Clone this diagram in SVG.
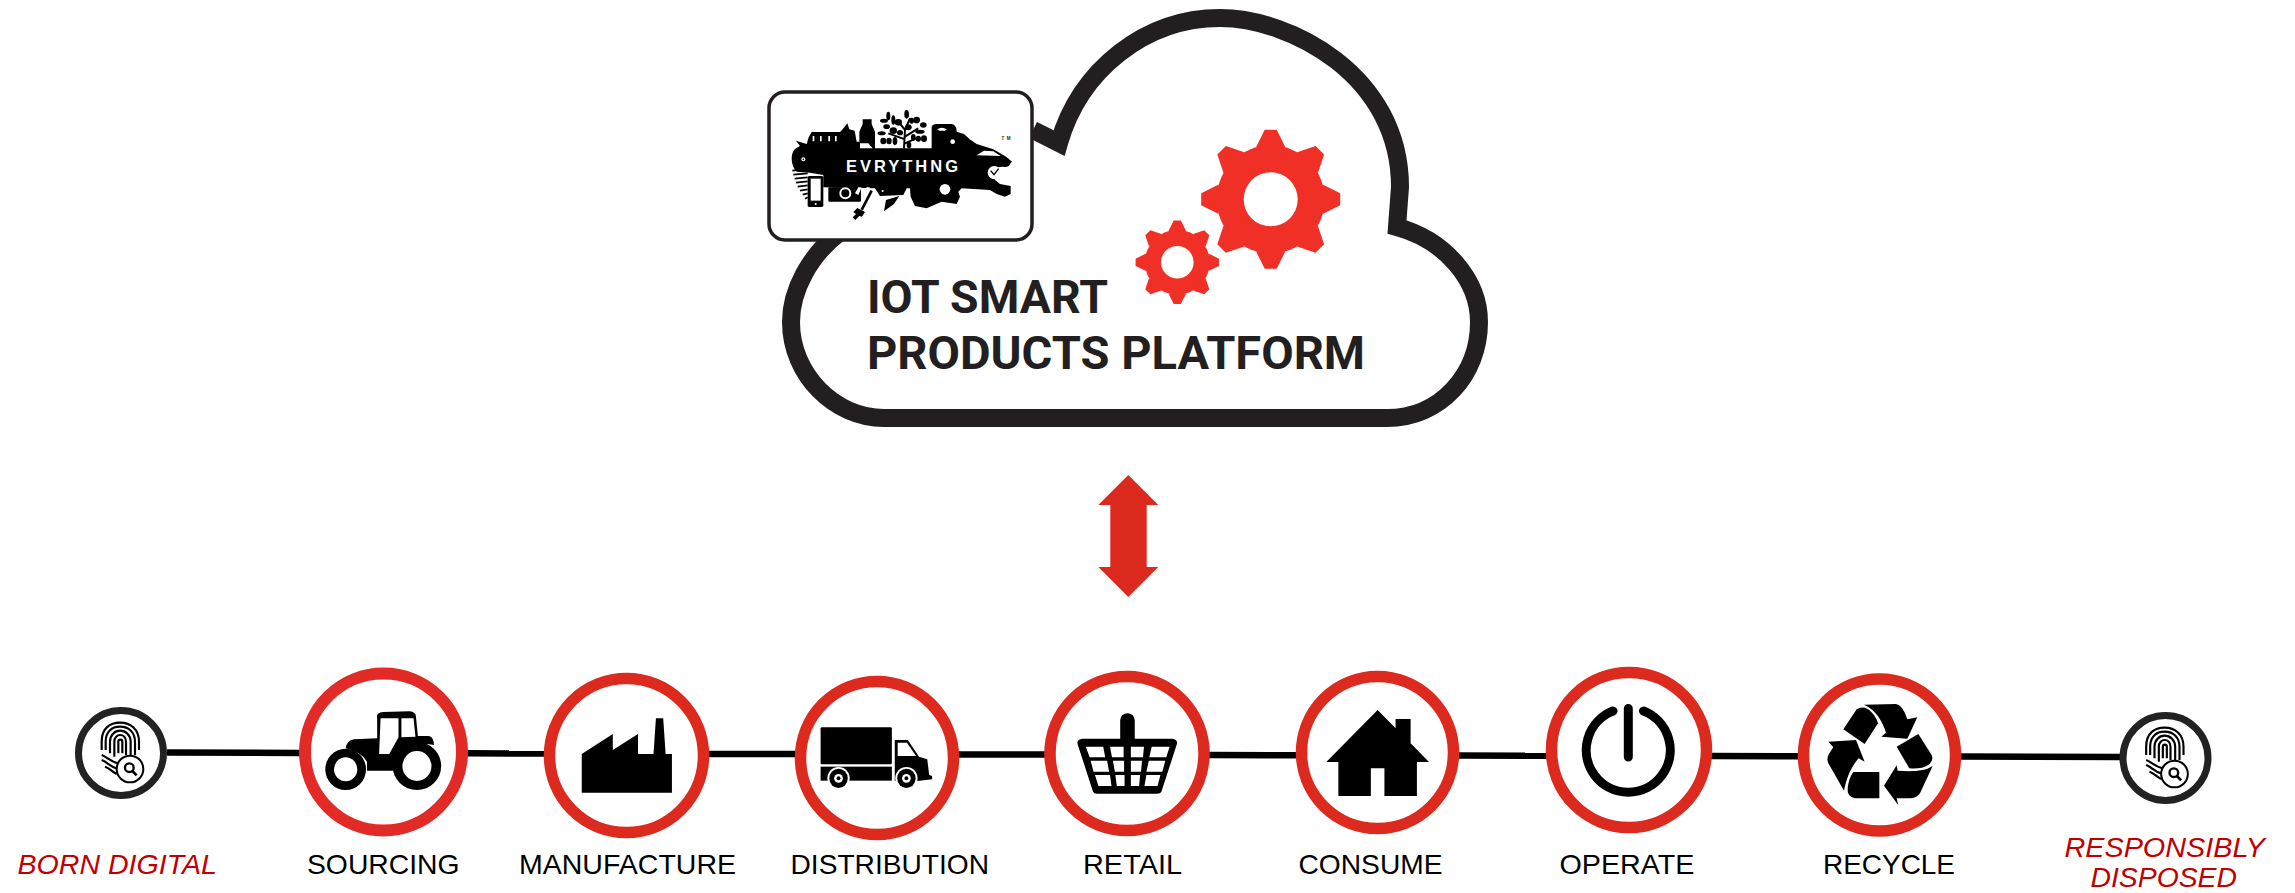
<svg xmlns="http://www.w3.org/2000/svg" xmlns:xlink="http://www.w3.org/1999/xlink" width="2295" height="893" viewBox="0 0 2295 893">
<style>
.lbl{font-family:"Liberation Sans",Arial,sans-serif;font-size:27.5px;fill:#000}
.red{font-family:"Liberation Sans",Arial,sans-serif;font-size:27.5px;font-style:italic;fill:#c00000}
.title{font-family:Roboto,"Liberation Sans",sans-serif;font-weight:700;font-size:46px;fill:#231f20}
.ring{fill:#fff;stroke:#dc2a1f;stroke-width:11.5}
.tiny{fill:#fff;stroke:#222;stroke-width:7}
.link{stroke:#000;stroke-width:6.5;fill:none}
.k{fill:#000}.w{fill:#fff}
.gear{fill:#f03027}
.fp{fill:none;stroke:#000;stroke-width:6.5}
</style>
<defs>
<g id="gearShape">
<circle r="54"/>
<g id="t4">
<polygon id="tooth" points="-6,-69.5 6,-69.5 14.7,-52 -14.7,-52"/>
<use xlink:href="#tooth" href="#tooth" transform="rotate(45)"/>
<use xlink:href="#tooth" href="#tooth" transform="rotate(90)"/>
<use xlink:href="#tooth" href="#tooth" transform="rotate(135)"/>
</g>
<use xlink:href="#t4" href="#t4" transform="rotate(180)"/>
</g>
<g id="fingerprint" transform="scale(0.3333) translate(-183,-159)">
<path class="fp" d="M125,150V125C125,85 150,68 180,68C212,68 237,88 237,125V150M137,150V125C137,95 155,80 180,80C207,80 225,97 225,125V165M150,160V125C150,105 165,92 180,92C197,92 212,105 212,125V165M163,170V125C163,112 172,105 180,105C190,105 198,112 198,125V165M175,160V125C175,117 187,117 187,125V160M125,165C140,170 150,185 175,190M125,180C140,185 150,200 170,205M135,200C150,205 155,215 170,222"/>
<circle cx="210" cy="207" r="40" fill="#fff" stroke="#000" stroke-width="6"/>
<circle cx="208" cy="203" r="13" fill="none" stroke="#000" stroke-width="7"/>
<path d="M217,213L230,226" fill="none" stroke="#000" stroke-width="8"/>
</g>
</defs>
<rect width="2295" height="893" fill="#fff"/>

<g id="cloud">
<path d="M1033,130L1059,143C1080,70 1145,18 1220,18C1290,18 1400,75 1400,187L1397,227C1445,240 1479,280 1479,322C1479,375 1440,418 1387,418L884,418C835,418 791,375 791,322C791,290 810,255 840,232" fill="#fff" stroke="#231f20" stroke-width="18" stroke-miterlimit="8"/>
<text class="title" x="867" y="313" textLength="241" lengthAdjust="spacingAndGlyphs">IOT SMART</text>
<text class="title" x="867" y="369" textLength="498" lengthAdjust="spacingAndGlyphs">PRODUCTS PLATFORM</text>
</g>

<g id="gears" class="gear">
<g id="gear-large"><use xlink:href="#gearShape" href="#gearShape" transform="translate(1270.7,199.3)"/><circle class="w" cx="1270.7" cy="199.3" r="27"/></g>
<g id="gear-small"><use xlink:href="#gearShape" href="#gearShape" transform="translate(1177.3,262.3) scale(0.6)"/><circle class="w" cx="1177.3" cy="262.3" r="16.3"/></g>
</g>

<g id="logo">
<rect x="769" y="92" width="263" height="148" rx="16" fill="#fff" stroke="#231f20" stroke-width="3.5"/>
<g transform="translate(760,80) scale(0.3333)">
<path class="k" d="M108,182L140,192L146,172L155,156L240,156L248,148L262,130L268,148L284,152L290,185L298,185L298,155L308,132L308,118L335,118L335,132L345,155L345,205L515,205L515,140Q518,132 530,132L575,132Q590,135 590,155L612,162L632,180L650,192L700,208L735,228L756,245L745,258L715,262L700,280L705,300L720,312L752,318L752,342L735,350L710,342L690,330L605,325L595,335L600,350L590,372L545,365L500,385L465,378L452,350L450,325L440,325L430,345L360,348L345,325L190,322L190,285L150,278L110,275Q95,260 95,235Q95,215 108,205L120,198Z"/>
<g class="w">
<circle cx="130" cy="238" r="6"/><circle cx="555" cy="328" r="16"/><circle cx="578" cy="185" r="7"/>
<path d="M532,148Q545,138 560,148L555,152H538Z"/>
<path d="M650,226L672,212L700,214L722,228Z"/>
<path d="M158,168h5v16h-5zM180,168h5v16h-5zM205,168h5v16h-5zM225,168h5v16h-5zM300,190L325,190L338,205H300Z"/>
<circle cx="703" cy="278" r="20"/>
<circle cx="368" cy="333" r="3"/>
</g>
<circle cx="130" cy="238" r="2.5" class="k"/>
<path d="M692,272L702,284L716,266" fill="none" stroke="#000" stroke-width="4"/>
<path d="M735,233Q752,240 745,255Q730,262 722,250" fill="none" stroke="#000" stroke-width="6"/>
<path d="M97,272L143,266M100,284L143,280M104,296L143,292M108,308L143,304M113,320L143,316M120,332L143,328M128,344L143,340M135,356L143,352" stroke="#000" stroke-width="5" fill="none"/>
<rect x="143" y="288" width="47" height="93" rx="5" class="k"/><rect x="152" y="296" width="30" height="66" class="w"/><circle cx="167" cy="372" r="3" class="w"/>
<rect x="205" y="322" width="98" height="43" rx="3" class="k"/>
<circle cx="256" cy="340" r="15" fill="none" stroke="#fff" stroke-width="6"/><rect x="218" y="318" width="12" height="4" class="k"/>
<path d="M285,340L295,322H305L295,345ZM305,345L320,322H330L315,345Z" class="w"/>
<path d="M335,330L305,392" stroke="#fff" stroke-width="16" fill="none"/>
<path d="M335,332L305,390" stroke="#000" stroke-width="8" fill="none"/>
<path d="M292,384L315,396L306,410L298,408L286,420L278,412L288,402L280,396Z" class="k"/>
<path d="M418,348L378,360L372,394L402,372Z" class="k"/>
<g class="k">
<path d="M432,205L435,150M435,178L385,160M435,170L475,145M435,190L480,170M435,150L415,125M435,150L450,115" stroke="#000" stroke-width="6" fill="none"/>
<ellipse cx="385" cy="108" rx="6" ry="13"/><ellipse cx="415" cy="127" rx="11" ry="10"/><ellipse cx="440" cy="103" rx="7" ry="13"/><ellipse cx="400" cy="120" rx="6" ry="14"/>
<ellipse cx="372" cy="122" rx="12" ry="6"/><ellipse cx="470" cy="120" rx="10" ry="10"/><ellipse cx="490" cy="135" rx="10" ry="8"/><ellipse cx="445" cy="142" rx="10" ry="9"/>
<ellipse cx="365" cy="160" rx="12" ry="6"/><ellipse cx="400" cy="152" rx="11" ry="10"/><ellipse cx="480" cy="155" rx="14" ry="6"/><ellipse cx="460" cy="172" rx="7" ry="10"/>
<ellipse cx="370" cy="183" rx="9" ry="10"/><ellipse cx="387" cy="183" rx="8" ry="10"/><ellipse cx="405" cy="183" rx="7" ry="12"/><ellipse cx="475" cy="176" rx="8" ry="9"/><ellipse cx="492" cy="176" rx="9" ry="10"/><ellipse cx="447" cy="195" rx="7" ry="10"/><ellipse cx="420" cy="158" rx="9" ry="8"/><ellipse cx="455" cy="122" rx="7" ry="9"/><ellipse cx="380" cy="140" rx="10" ry="7"/>
</g>
</g>
<text x="846" y="172" font-family="'Liberation Sans',sans-serif" font-weight="bold" font-size="16.5" fill="#fff" textLength="112">EVRYTHNG</text>
<text x="1001.5" y="140" font-family="'Liberation Sans',sans-serif" font-weight="bold" font-size="4.5" fill="#231f20" textLength="9">TM</text>
</g>

<g id="double-arrow"><polygon points="1128.3,475 1158.3,505 1146.7,505 1146.7,567 1158.3,567 1128.3,597 1098.3,567 1110.3,567 1110.3,505 1098.3,505" fill="#dc2a1f"/></g>

<g id="connectors">
<line class="link" x1="167" y1="752.6" x2="300" y2="752.9"/>
<line class="link" x1="467" y1="753.3" x2="545" y2="753.5"/>
<line class="link" x1="708" y1="753.9" x2="796" y2="754.1"/>
<line class="link" x1="958" y1="754.4" x2="1045" y2="754.6"/>
<line class="link" x1="1208" y1="755" x2="1297" y2="755.2"/>
<line class="link" x1="1458" y1="755.5" x2="1547" y2="755.7"/>
<line class="link" x1="1711" y1="756" x2="1799" y2="756.2"/>
<line class="link" x1="1960" y1="756.5" x2="2120" y2="757"/>
</g>

<g id="born-digital">
<circle class="tiny" cx="121" cy="753" r="42.5"/>
<use xlink:href="#fingerprint" href="#fingerprint" transform="translate(121,753)"/>
<text class="red" x="17.500" y="874" textLength="199.500" lengthAdjust="spacingAndGlyphs">BORN DIGITAL</text>
</g>

<g id="sourcing">
<circle cx="383.5" cy="752" r="78.5" fill="#fff" stroke="#e22a27" stroke-width="12"/>
<g transform="translate(0,650) scale(0.4848,0.3333)">
<path class="k" d="M713,295Q715,272 730,268L778,265L778,205Q775,188 790,186L845,184Q858,186 858,200L862,258L885,258Q895,262 895,285Q860,275 835,300Q815,320 812,362L757,362L757,335Q745,305 713,295Z"/>
<path class="w" d="M785,205H822V262L803,312H782ZM828,205H853L857,260L828,262Z"/>
<ellipse class="k" cx="860" cy="348" rx="50" ry="72"/><ellipse class="w" cx="860" cy="348" rx="30" ry="45"/>
<ellipse class="k" cx="713" cy="358" rx="42" ry="62"/><ellipse class="w" cx="713" cy="358" rx="24" ry="36"/>
</g>
<text class="lbl" x="307" y="874" textLength="152.500" lengthAdjust="spacingAndGlyphs">SOURCING</text>
</g>

<g id="manufacture">
<circle class="ring" cx="626.5" cy="755.5" r="77"/>
<path class="k" transform="translate(0,650) scale(0.4848,0.3333)" d="M1200,428L1200,312L1264,252L1264,300L1316,252L1316,312L1348,312L1353,205L1368,205L1373,312L1386,312L1386,428Z"/>
<text class="lbl" x="519" y="874" textLength="217" lengthAdjust="spacingAndGlyphs">MANUFACTURE</text>
</g>

<g id="distribution">
<circle class="ring" cx="877" cy="758" r="76.5"/>
<g transform="translate(760,650) scale(0.4848,0.3333)">
<rect class="k" x="125" y="232" width="147" height="111" rx="3"/>
<rect class="k" x="125" y="350" width="147" height="42"/>
<path class="k" d="M278,270H305L328,320L345,328L349,375L355,378L355,388L325,393H278Z"/>
<path class="w" d="M284,278H303L322,318H284Z"/>
<ellipse class="w" cx="162" cy="385" rx="23" ry="34"/><ellipse class="k" cx="162" cy="385" rx="19" ry="29"/><ellipse class="w" cx="162" cy="385" rx="9" ry="13"/><ellipse class="k" cx="162" cy="385" rx="4" ry="6"/>
<ellipse class="w" cx="302" cy="385" rx="23" ry="34"/><ellipse class="k" cx="302" cy="385" rx="19" ry="29"/><ellipse class="w" cx="302" cy="385" rx="9" ry="13"/><ellipse class="k" cx="302" cy="385" rx="4" ry="6"/>
</g>
<text class="lbl" x="790.5" y="874" textLength="198.5" lengthAdjust="spacingAndGlyphs">DISTRIBUTION</text>
</g>

<g id="retail">
<circle class="ring" cx="1127" cy="753.5" r="77"/>
<g transform="translate(760,650) scale(0.4848,0.3333)">
<path class="k" d="M743,270V210Q745,190 758,190Q771,190 773,210V266H850Q862,268 860,282L828,425Q826,431 818,431H695Q689,431 687,425L655,282Q653,268 665,266H743Z"/>
<path class="w" d="M672,290H708L712,322H680ZM722,290H750V322H726ZM765,290H792L790,322H765ZM808,290H845L838,322H803ZM682,332H716L720,365H688ZM728,332H751V365H732ZM765,332H788L786,365H765ZM802,332H836L830,365H797ZM691,375H722L725,408H698ZM733,375H752V408H736ZM765,375H784L782,408H765ZM797,375H826L820,408H793Z"/>
</g>
<text class="lbl" x="1083" y="874" textLength="99" lengthAdjust="spacingAndGlyphs">RETAIL</text>
</g>

<g id="consume">
<circle class="ring" cx="1377.5" cy="752.5" r="76"/>
<path class="k" transform="translate(760,650) scale(0.4848,0.3333)" d="M1274,180L1311,235V207H1342V280L1380,336H1355V438H1288V355H1260V438H1193V336H1168Z"/>
<text class="lbl" x="1298.5" y="874" textLength="144" lengthAdjust="spacingAndGlyphs">CONSUME</text>
</g>

<g id="operate">
<circle class="ring" cx="1629" cy="750" r="77.5"/>
<path d="M1613,711A42,42 0 1 0 1643.5,711M1628.3,708.500V757" fill="none" stroke="#000" stroke-width="9" stroke-linecap="round"/>
<text class="lbl" x="1559.5" y="874" textLength="135" lengthAdjust="spacingAndGlyphs">OPERATE</text>
</g>

<g id="recycle">
<circle class="ring" cx="1879.5" cy="755" r="76"/>
<g class="k" transform="translate(1790,690) scale(0.3333)">
<path d="M222,44L318,42Q338,44 352,88L382,82L352,146L274,140L288,128C278,95 258,60 222,44Z"/>
<path d="M160,118L200,58Q215,48 232,56C250,68 260,85 264,100L224,162Z"/>
<path d="M115,155L198,150L224,215L206,205C180,235 170,265 162,302L115,220Q108,205 118,190L130,172Z"/>
<path d="M190,246H268V325H195Q170,320 173,295C175,275 180,260 190,246Z"/>
<path d="M282,287L320,226L323,242C360,245 405,245 428,228L390,310Q380,325 360,325L320,325L325,346Z"/>
<path d="M320,170L385,132L425,195Q432,212 415,225Q395,238 358,235Z"/>
</g>
<text class="lbl" x="1823" y="874" textLength="132" lengthAdjust="spacingAndGlyphs">RECYCLE</text>
</g>

<g id="responsibly-disposed">
<circle class="tiny" cx="2165.5" cy="758" r="42.500"/>
<use xlink:href="#fingerprint" href="#fingerprint" transform="translate(2165.5,758)"/>
<text class="red" x="2064.5" y="856.5" textLength="200.5" lengthAdjust="spacingAndGlyphs">RESPONSIBLY</text>
<text class="red" x="2090.5" y="887" textLength="146.500" lengthAdjust="spacingAndGlyphs">DISPOSED</text>
</g>
</svg>
